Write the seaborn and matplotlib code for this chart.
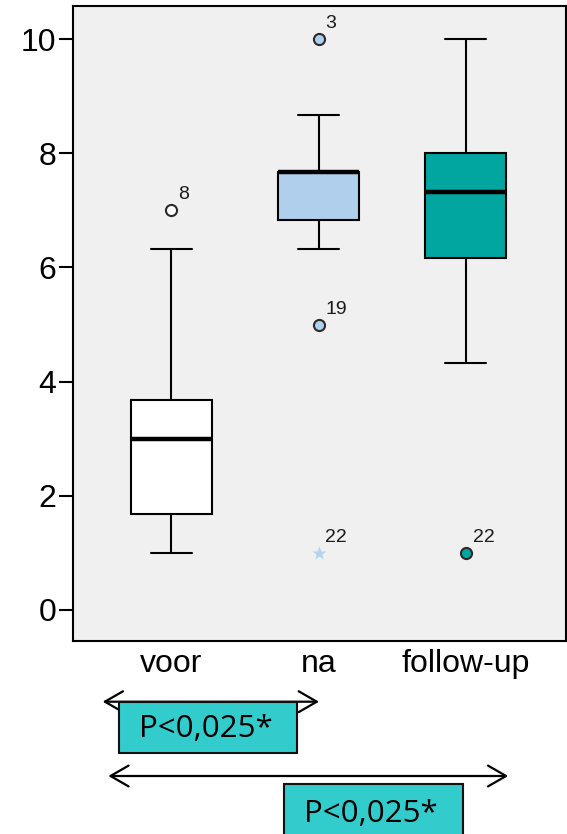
import numpy as np
import pandas as pd
import matplotlib
matplotlib.use('Agg')
import matplotlib.pyplot as plt
from matplotlib.patches import Rectangle, FancyArrowPatch, ArrowStyle
import seaborn as sns

# scores per meetmoment
groups = ['voor', 'na', 'follow-up']
voor = [1.0, 1.33, 1.67, 2.33, 3.0, 3.33, 3.67, 6.33, 7.0]
na = [1.0, 5.0, 6.33, 6.83, 7.0, 7.33, 7.67, 7.67, 7.67, 7.67, 8.33, 8.67, 10.0]
follow_up = [1.0, 4.33, 6.17, 6.67, 7.33, 7.67, 8.0, 9.0, 10.0]

# uitschieters met casenummer (SPSS-stijl)
out_group = ['voor', 'na', 'na', 'na', 'follow-up']
out_value = [7.0, 10.0, 5.0, 1.0, 1.0]
out_case = ['8', '3', '19', '22', '22']
out_extreme = [False, False, False, True, False]

colors = {'voor': '#FFFFFF', 'na': '#AFCFEC', 'follow-up': '#00A69F'}
p_labels = ['P<0,025*', 'P<0,025*']

df = pd.DataFrame({
    'moment': ['voor'] * len(voor) + ['na'] * len(na) + ['follow-up'] * len(follow_up),
    'score': voor + na + follow_up,
})

sns.set_theme(style='ticks')
plt.rcParams['font.family'] = ['Liberation Sans', 'DejaVu Sans']
plt.rcParams['text.color'] = 'black'

W, H = 567, 834
fig = plt.figure(figsize=(W / 100, H / 100), dpi=100)
ax = fig.add_axes([72.7 / W, 1 - 640.7 / H, (565.5 - 72.7) / W, (640.7 - 6) / H])
ax.set_facecolor('#F0F0F0')

sns.boxplot(data=df, x='moment', y='score', hue='moment', order=groups, hue_order=groups,
            palette=colors, saturation=1, width=0.55, whis=1.5, showfliers=False,
            linecolor='black', linewidth=1.5, legend=False, ax=ax,
            medianprops={'linewidth': 3.2})

# uitschieters
for g, v, c, ext in zip(out_group, out_value, out_case, out_extreme):
    xi = groups.index(g)
    if ext:
        ax.plot(xi, v, marker='*', ms=10, color='#B4D3EF', mec='none', zorder=5)
    else:
        ax.plot(xi, v, marker='o', ms=8, mfc=colors[g], mec='#2A2A2A', mew=1.5, zorder=5)
    ax.annotate(c, (xi, v), xytext=(5, 5), textcoords='offset points',
                ha='left', va='bottom', fontsize=14, color='#1A1A1A')

ax.set_xlim(-0.67, 2.678)
ax.set_ylim(-0.543, 10.584)
ax.set_yticks([0, 2, 4, 6, 8, 10])
ax.set_xlabel('')
ax.set_ylabel('')
ax.tick_params(axis='y', length=10, width=1.5, labelsize=23, pad=2,
               color='black', labelcolor='black')
ax.tick_params(axis='x', length=0, labelsize=23, pad=6, labelcolor='black')
for s in ax.spines.values():
    s.set_visible(True)
    s.set_color('black')
    s.set_linewidth(1.5)


def fx(px):
    return px / W


def fy(py):
    return 1 - py / H


# pijlen en p-waarden onder de grafiek
arrows = [(102.7, 319.0, 701.7), (108.3, 508.3, 776.0)]
boxes = [(119, 702, 297.3, 752.5), (284, 784, 463.3, 845)]
text_pos = [(139, 736.7), (304, 821.7)]

for x0, x1, y in arrows:
    arr = FancyArrowPatch((fx(x0), fy(y)), (fx(x1), fy(y)), transform=fig.transFigure,
                          arrowstyle=ArrowStyle('<->', head_length=13, head_width=7.5),
                          mutation_scale=1, lw=1.6, color='black', shrinkA=0, shrinkB=0)
    fig.add_artist(arr)

for (x0, y0, x1, y1), (tx, ty), lab in zip(boxes, text_pos, p_labels):
    rect = Rectangle((fx(x0), fy(y1)), fx(x1) - fx(x0), fy(y0) - fy(y1),
                     transform=fig.transFigure, facecolor='#33CCCC',
                     edgecolor='#111111', lw=1.5, zorder=3)
    fig.add_artist(rect)
    fig.text(fx(tx), fy(ty), lab, ha='left', va='baseline', fontsize=22.5,
             family=['Open Sans', 'DejaVu Sans'], color='black', zorder=4)

fig.savefig('out.png', dpi=100)
